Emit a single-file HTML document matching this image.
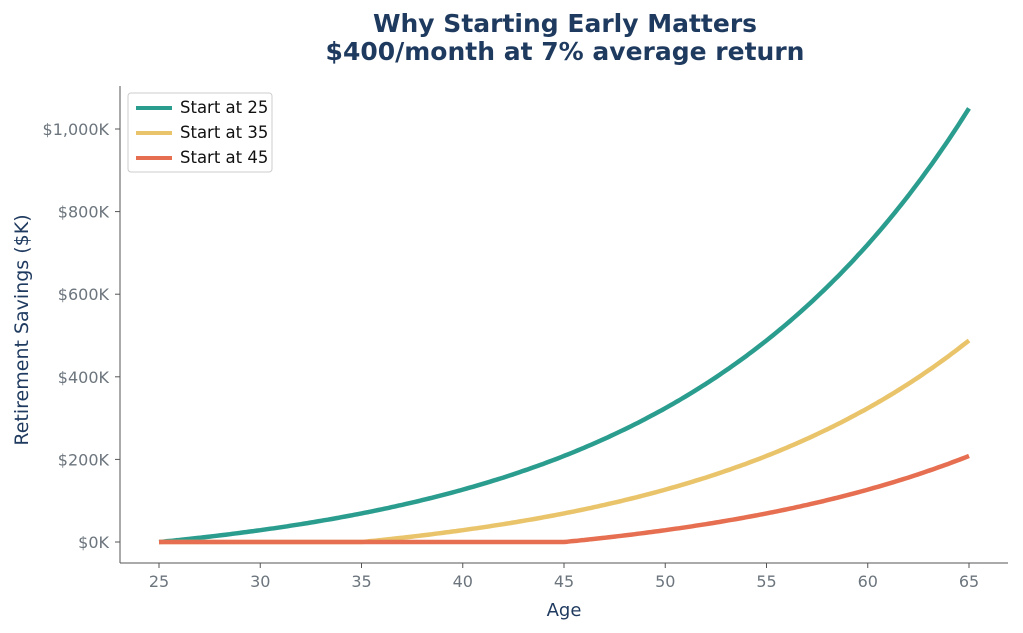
<!DOCTYPE html>
<html><head><meta charset="utf-8"><style>
body{margin:0;background:#fff;}
svg{display:block;font-family:"DejaVu Sans","Liberation Sans",sans-serif;}
</style></head><body>
<svg id="c" width="1023" height="633" viewBox="0 0 1023 633" xmlns="http://www.w3.org/2000/svg">
<rect width="1023" height="633" fill="#fff"/>
<text x="565" y="32" text-anchor="middle" font-size="25" font-weight="bold" fill="#1f3a5f">Why Starting Early Matters</text>
<text x="565" y="60" text-anchor="middle" font-size="25" font-weight="bold" fill="#1f3a5f">$400/month at 7% average return</text>
<line x1="120" y1="86" x2="120" y2="563" stroke="#555" stroke-width="1"/>
<line x1="120" y1="563" x2="1008" y2="563" stroke="#555" stroke-width="1"/>
<g id="ticks" font-size="16" fill="#6c757d"></g>
<text x="564" y="616" text-anchor="middle" font-size="18" fill="#1f3a5f">Age</text>
<text transform="translate(28,330) rotate(-90)" text-anchor="middle" font-size="19" fill="#1f3a5f">Retirement Savings ($K)</text>
<g id="lines" fill="none" stroke-width="4.5" stroke-linejoin="round"></g>
<rect x="128" y="93" width="144" height="79" rx="3" fill="#fff" stroke="#ccc"/>
<line x1="136" y1="108" x2="172" y2="108" stroke="#2a9d8f" stroke-width="4"/>
<line x1="136" y1="133" x2="172" y2="133" stroke="#e9c46a" stroke-width="4"/>
<line x1="136" y1="158" x2="172" y2="158" stroke="#e76f51" stroke-width="4"/>
<text x="180" y="113" font-size="16.5" fill="#111">Start at 25</text>
<text x="180" y="138" font-size="16.5" fill="#111">Start at 35</text>
<text x="180" y="163" font-size="16.5" fill="#111">Start at 45</text>
</svg>
<script>
var NS="http://www.w3.org/2000/svg";
function X(a){return 159+(a-25)*20.25;}
function Y(k){return 542-k*0.413;}
var t=document.getElementById("ticks");
function el(n,a,p,txt){var e=document.createElementNS(NS,n);for(var k in a)e.setAttribute(k,a[k]);if(txt)e.textContent=txt;p.appendChild(e);}
for(var a=25;a<=65;a+=5){el("line",{x1:X(a),x2:X(a),y1:563,y2:568,stroke:"#555"},t);el("text",{x:X(a),y:587,"text-anchor":"middle"},t,""+a);}
var labs=["$0K","$200K","$400K","$600K","$800K","$1,000K"];
for(var i=0;i<6;i++){var y=Y(i*200);el("line",{x1:115,x2:120,y1:y,y2:y,stroke:"#555"},t);el("text",{x:109,y:y+6,"text-anchor":"end"},t,labs[i]);}
var r=0.07/12,L=document.getElementById("lines");
[[25,"#2a9d8f"],[35,"#e9c46a"],[45,"#e76f51"]].forEach(function(s){
var d="";for(var m=0;m<=480;m+=2){var age=25+m/12;var n=Math.max(0,(age-s[0])*12);var v=400*(Math.pow(1+r,n)-1)/r/1000;d+=(m?"L":"M")+X(age).toFixed(1)+","+Y(v).toFixed(1);}
el("path",{d:d,stroke:s[1]},L);});
</script>
</body></html>
